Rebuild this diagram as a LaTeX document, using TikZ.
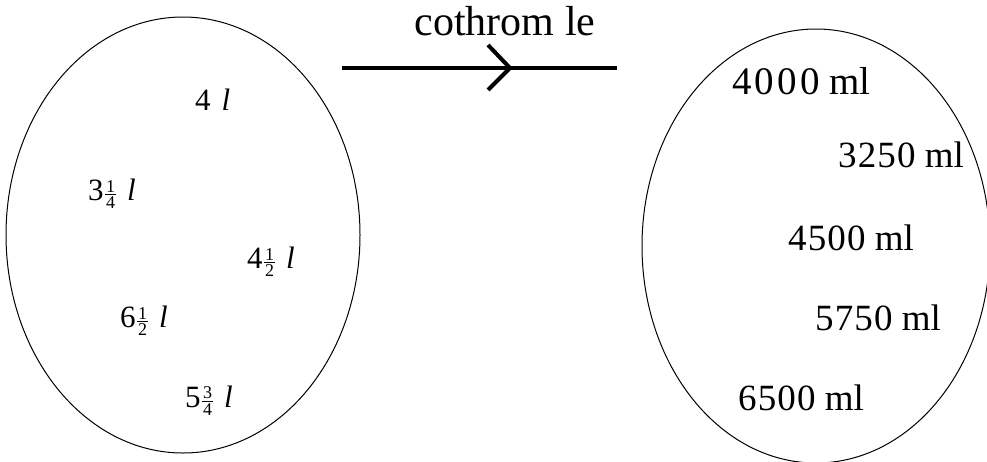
\documentclass[tikz,border=0pt]{standalone}
\usepackage{fontspec}
\setmainfont{Liberation Serif}
\newfontfamily\bigspaced[LetterSpace=8]{Liberation Serif}
\newfontfamily\smallspaced[LetterSpace=3]{Liberation Serif}
\usetikzlibrary{shapes.geometric}
\newcommand{\myfr}[2]{\kern1.5pt\raisebox{-8pt}{\vbox{\fontsize{18}{18}\selectfont\offinterlineskip
  \halign{\hfil\kern1pt##\kern1pt\hfil\cr #1\cr\noalign{\kern1.6pt\hrule height0.8pt\kern1.6pt}#2\cr}}}\kern1.5pt}
\tikzset{
  setbox/.style={draw=black, line width=1pt, ellipse, inner sep=0pt},
  litre/.style={anchor=base west, inner sep=0pt, font=\fontsize{31}{31}\selectfont},
  ml/.style={anchor=base west, inner sep=0pt, font=\fontsize{37}{37}\selectfont},
  mapline/.style={line width=4pt},
}
\begin{document}
\begin{tikzpicture}[x=1pt, y=-1pt]
\useasboundingbox (0,0) rectangle (987,461);
% sets
\node[setbox, minimum width=354pt, minimum height=436pt] (L) at (183,235) {};
\node[setbox, minimum width=348pt, minimum height=434pt] (R) at (816,246) {};
% left labels
\node[litre] (l1) at (195,110) {4\hspace{0.35em}\textit{l}};
\node[litre] (l2) at (88,200) {3\myfr{1}{4}\hspace{0.3em}\textit{l}};
\node[litre] (l3) at (247,268) {4\myfr{1}{2}\hspace{0.3em}\textit{l}};
\node[litre] (l4) at (120,327) {6\myfr{1}{2}\hspace{0.3em}\textit{l}};
\node[litre] (l5) at (185,407) {5\myfr{3}{4}\hspace{0.3em}\textit{l}};
% right labels
\node[ml, font=\fontsize{39}{39}\selectfont] (r1) at (732,94) {{\bigspaced 4000} ml};
\node[ml] (r2) at (838,167) {{\smallspaced 3250} ml};
\node[ml] (r3) at (788,250) {{\smallspaced 4500} ml};
\node[ml] (r4) at (815,330) {{\smallspaced 5750} ml};
\node[ml] (r5) at (738,410) {{\smallspaced 6500} ml};
% mapping arrow
\coordinate (as) at (342,68);
\coordinate (ae) at (617,68);
\coordinate (tip) at (510,68);
\coordinate (armtop) at (488,45);
\coordinate (armbot) at (488,90);
\draw[mapline] (as) -- (ae);
\draw[mapline, line join=miter] (armtop) -- (tip) -- (armbot);
\node[anchor=base, inner sep=0pt, font=\fontsize{42}{42}\selectfont] (lab) at (505,35) {cothrom le};
\end{tikzpicture}
\end{document}
